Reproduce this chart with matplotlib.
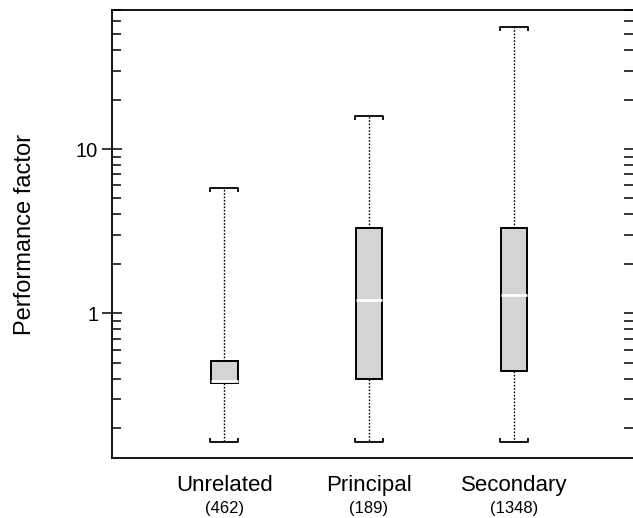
import numpy as np
import matplotlib
matplotlib.use("Agg")
import matplotlib.pyplot as plt
from matplotlib.path import Path
from matplotlib.ticker import FixedLocator, LogLocator, NullFormatter

plt.rcParams['font.family'] = ['Liberation Sans', 'DejaVu Sans']

# data (log scale)
categories = ['Unrelated', 'Principal', 'Secondary']
counts = ['(462)', '(189)', '(1348)']
whisk_lo = [0.165, 0.165, 0.165]
q1 = [0.375, 0.398, 0.445]
medians = [0.385, 1.20, 1.29]
q3 = [0.515, 3.32, 3.29]
whisk_hi = [5.77, 15.9, 55.0]

positions = np.arange(1, len(categories) + 1)

stats = []
for i, name in enumerate(categories):
    stats.append({'label': name, 'whislo': whisk_lo[i], 'q1': q1[i], 'med': medians[i],
                  'q3': q3[i], 'whishi': whisk_hi[i]})

fig = plt.figure(figsize=(6.33, 5.18), dpi=100)
ax = fig.add_axes([0.177, 0.1158, 0.823, 0.8649])
ax.set_yscale('log')

ax.bxp(stats, positions=positions, widths=0.183, patch_artist=True, showcaps=False,
       showfliers=False,
       boxprops=dict(facecolor='#d4d4d4', edgecolor='black', linewidth=1.4),
       whiskerprops=dict(color='black', linestyle=(0, (1.2, 1.2)), linewidth=1.0),
       medianprops=dict(color='white', linewidth=2.0))

# bracket-shaped caps
cap_down = Path([(-1, -0.3), (-1, 0), (1, 0), (1, -0.3)],
                [Path.MOVETO, Path.LINETO, Path.LINETO, Path.LINETO])
cap_up = Path([(-1, 0.3), (-1, 0), (1, 0), (1, 0.3)],
              [Path.MOVETO, Path.LINETO, Path.LINETO, Path.LINETO])
ax.plot(positions, whisk_hi, linestyle='none', marker=cap_down, markersize=19.5,
        markerfacecolor='none', markeredgecolor='black', markeredgewidth=1.3)
ax.plot(positions, whisk_lo, linestyle='none', marker=cap_up, markersize=19.5,
        markerfacecolor='none', markeredgecolor='black', markeredgewidth=1.3)

ax.set_xlim(0.224, 3.824)
ax.set_ylim(0.1316, 70.2)

ax.yaxis.set_major_locator(FixedLocator([1, 10]))
ax.set_yticklabels(['1', '10'], fontsize=14.5)
ax.yaxis.set_minor_locator(LogLocator(base=10, subs=np.arange(2, 10)))
ax.yaxis.set_minor_formatter(NullFormatter())
ax.tick_params(axis='y', which='major', direction='inout', length=14, width=1.1, pad=3)
ax.tick_params(axis='y', which='minor', direction='in', length=6.5, width=1.1)

sec = ax.secondary_yaxis('right')
sec.yaxis.set_major_locator(FixedLocator([1, 10]))
sec.yaxis.set_minor_locator(LogLocator(base=10, subs=np.arange(2, 10)))
sec.yaxis.set_major_formatter(NullFormatter())
sec.yaxis.set_minor_formatter(NullFormatter())
sec.tick_params(which='both', direction='in', length=6.5, width=1.1)
sec.spines['right'].set_visible(False)

ax.set_xticks([])
for x, name, n in zip(positions, categories, counts):
    ax.annotate(name, xy=(x, 0), xycoords=('data', 'axes fraction'), xytext=(0, -20),
                textcoords='offset points', ha='center', va='center', fontsize=16)
    ax.annotate(n, xy=(x, 0), xycoords=('data', 'axes fraction'), xytext=(0, -36.5),
                textcoords='offset points', ha='center', va='center', fontsize=12)

ax.set_ylabel('Performance factor', fontsize=17, labelpad=29)

for side in ['left', 'top', 'bottom']:
    ax.spines[side].set_linewidth(1.3)
ax.spines['right'].set_visible(False)

fig.savefig('out.png', dpi=100)
